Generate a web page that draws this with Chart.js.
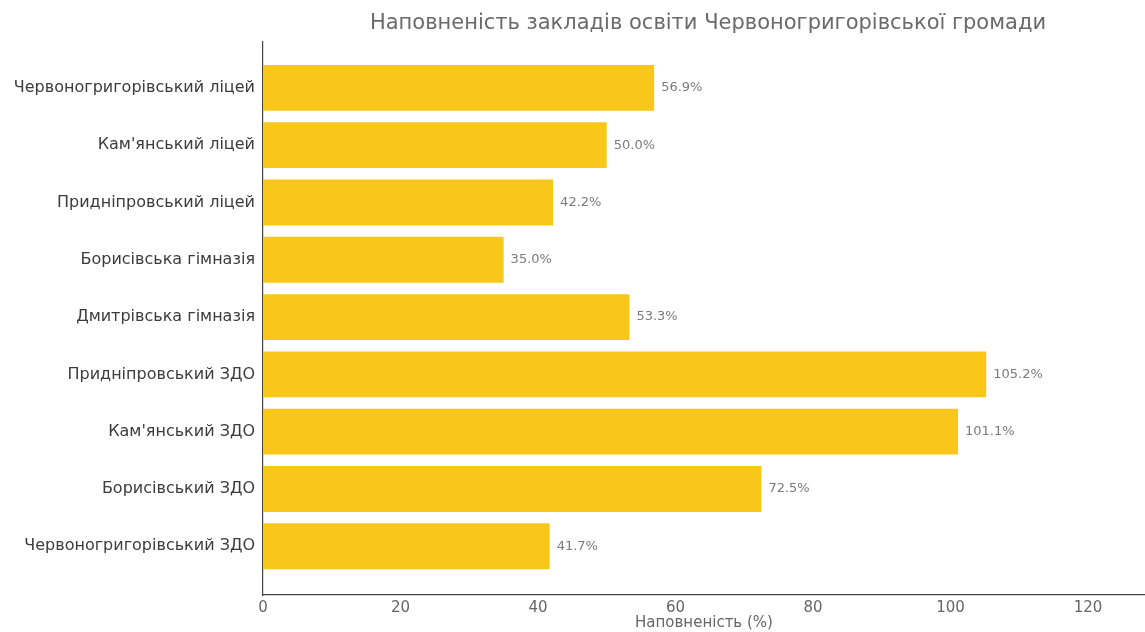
<!DOCTYPE html>
<html>
<head>
<meta charset="utf-8">
<script src="https://cdn.jsdelivr.net/npm/chart.js@4"></script>
<style>
  html, body { margin: 0; padding: 0; background: #fff; }
  #wrap { width: 1145px; height: 632px; }
</style>
</head>
<body>
<div id="wrap"><canvas id="chart"></canvas></div>
<script>
// Назви закладів і наповненість (%)
const zaklady = [
    'Червоногригорівський ліцей',
    "Кам'янський ліцей",
    'Придніпровський ліцей',
    'Борисівська гімназія',
    'Дмитрівська гімназія',
    'Придніпровський ЗДО',
    "Кам'янський ЗДО",
    'Борисівський ЗДО',
    'Червоногригорівський ЗДО'
];
const napovnenist = [56.9, 50.0, 42.2, 35.0, 53.3, 105.2, 101.1, 72.5, 41.7];
const xTicks = [0, 20, 40, 60, 80, 100, 120];
const titleText = 'Наповненість закладів освіти Червоногригорівської громади';

const FONT = "'DejaVu Sans', sans-serif";

// підписи значень праворуч від смуг + заголовок над областю графіка
const valueLabels = {
    id: 'valueLabels',
    afterDatasetsDraw(chart) {
        const ctx = chart.ctx;
        const meta = chart.getDatasetMeta(0);
        ctx.save();
        ctx.font = `13px ${FONT}`;
        ctx.fillStyle = '#7a7a7a';
        ctx.textAlign = 'left';
        ctx.textBaseline = 'middle';
        meta.data.forEach((bar, i) => {
            ctx.fillText(napovnenist[i].toFixed(1) + '%', bar.x + 7, bar.y);
        });

        const a = chart.chartArea;
        ctx.font = `21px ${FONT}`;
        ctx.fillStyle = '#6a6a6a';
        ctx.textAlign = 'center';
        ctx.fillText(titleText, (a.left + a.right) / 2 + 4, 24);
        ctx.restore();
    }
};

new Chart(document.getElementById('chart'), {
    type: 'bar',
    data: {
        datasets: [{
            data: napovnenist.map((v, i) => ({ x: v, y: i })),
            backgroundColor: '#F9C71A',
            borderWidth: 0,
            barPercentage: 0.8,
            categoryPercentage: 1
        }]
    },
    options: {
        indexAxis: 'y',
        responsive: true,
        maintainAspectRatio: false,
        animation: false,
        layout: { padding: { left: 0, right: 0, top: 42, bottom: 0 } },
        plugins: {
            legend: { display: false },
            tooltip: { enabled: false },
            title: { display: false }
        },
        scales: {
            x: {
                type: 'linear',
                min: 0,
                max: 128.3,
                afterBuildTicks: s => { s.ticks = xTicks.map(v => ({ value: v })); },
                grid: { display: false, drawTicks: true, tickLength: 4, tickColor: '#555' },
                border: { display: true, color: '#444', width: 1.2 },
                ticks: { color: '#666', font: { family: FONT, size: 15 }, padding: 0 },
                title: {
                    display: true,
                    text: 'Наповненість (%)',
                    color: '#666',
                    font: { family: FONT, size: 15 },
                    padding: { top: -3, bottom: 0 }
                }
            },
            y: {
                type: 'linear',
                reverse: true,
                offset: false,
                min: -0.8,
                max: 8.85,
                afterBuildTicks: s => { s.ticks = zaklady.map((_, i) => ({ value: i })); },
                afterFit: s => { s.width = 263; },
                grid: { display: false, drawTicks: true, tickLength: 5, tickColor: '#555' },
                border: { display: true, color: '#444', width: 1.2 },
                ticks: {
                    color: '#3c3c3c',
                    font: { family: FONT, size: 16 },
                    padding: 3,
                    callback: v => zaklady[v] ?? ''
                }
            }
        }
    },
    plugins: [valueLabels]
});
</script>
</body>
</html>
